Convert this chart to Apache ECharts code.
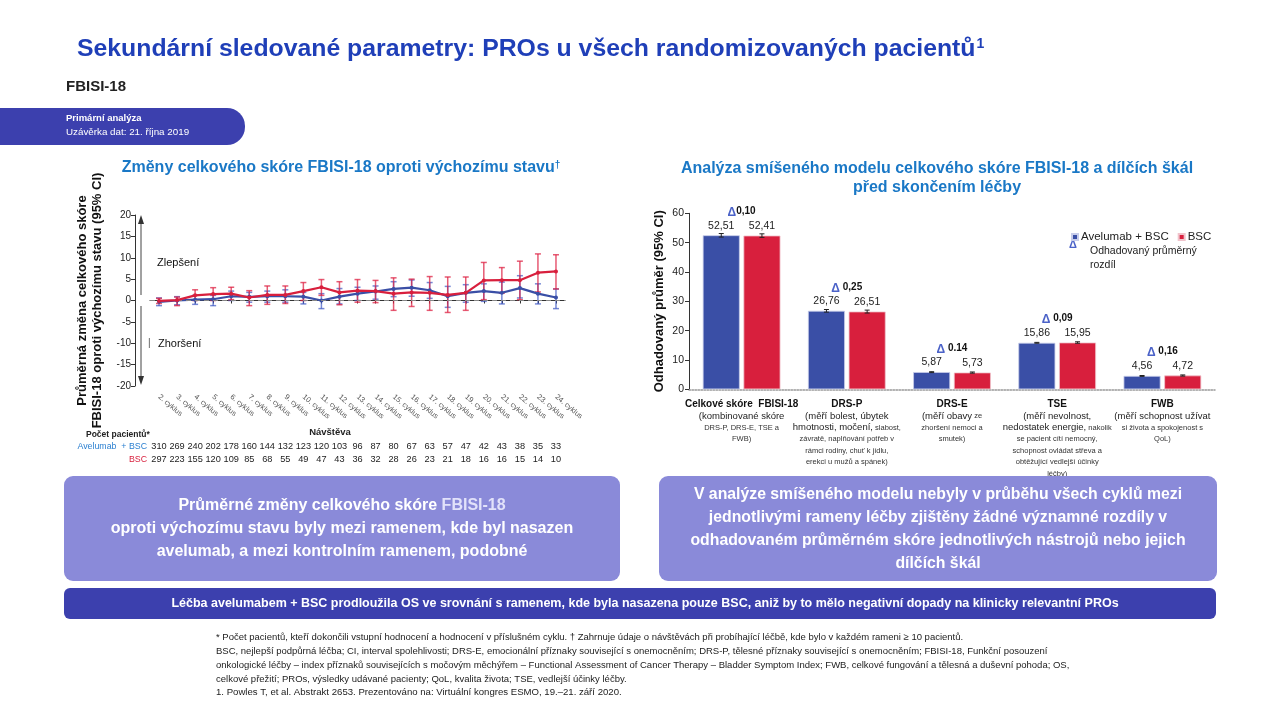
<!DOCTYPE html>
<html><head><meta charset="utf-8">
<script src="https://cdn.jsdelivr.net/npm/echarts@6/dist/echarts.min.js"></script>
<style>html,body{margin:0;padding:0;background:#fff}#c{width:1280px;height:720px}</style>
</head><body><div id="c"></div>
<script>
// ---------- Left chart data ----------
const cycles = ['2. cyklus','3. cyklus','4. cyklus','5. cyklus','6. cyklus','7. cyklus','8. cyklus','9. cyklus','10. cyklus','11. cyklus','12. cyklus','13. cyklus','14. cyklus','15. cyklus','16. cyklus','17. cyklus','18. cyklus','19. cyklus','20. cyklus','21. cyklus','22. cyklus','23. cyklus','24. cyklus'];
const aveMean = [-0.3, 0.0, 0.2, 0.3, 1.0, 0.85, 1.0, 1.0, 0.9, 0.0, 0.9, 1.6, 2.1, 2.7, 3.0, 2.4, 1.0, 1.8, 2.2, 1.8, 2.9, 1.6, 0.7];
const aveLow  = [-1.2, -1.0, -0.9, -1.2, 0.0, -0.4, -0.4, -0.4, -0.8, -1.9, -0.8, 0.0, 0.3, 0.9, 1.0, 0.5, -1.6, -0.4, -0.2, -0.8, 0.6, -0.8, -1.9];
const aveHigh = [0.6, 0.9, 1.2, 1.2, 2.2, 1.9, 2.2, 2.5, 1.9, 1.6, 2.8, 3.1, 3.4, 4.4, 4.8, 4.2, 3.3, 3.7, 3.9, 4.3, 5.8, 3.9, 2.7];
const bscMean = [-0.1, 0.1, 1.2, 1.5, 1.6, 0.7, 1.3, 1.3, 2.2, 3.1, 1.9, 2.3, 2.2, 1.6, 1.9, 1.8, 1.3, 1.8, 4.7, 4.75, 4.75, 6.5, 6.8];
const bscLow  = [-0.7, -1.2, 0.0, 0.0, 0.2, -1.2, -0.9, -0.7, 0.0, 1.2, -1.0, -0.4, -0.5, -2.3, -1.4, -2.3, -2.8, -2.3, 0.2, 1.7, 0.2, 2.0, 2.7];
const bscHigh = [0.5, 0.8, 2.5, 3.0, 3.1, 2.3, 3.4, 3.4, 4.2, 4.9, 4.4, 4.9, 4.7, 5.3, 5.0, 5.6, 5.5, 5.5, 8.9, 7.7, 9.2, 10.9, 10.7];
const aveN = [310,269,240,202,178,160,144,132,123,120,103,96,87,80,67,63,57,47,42,43,38,35,33];
const bscN = [297,223,155,120,109,85,68,55,49,47,43,36,32,28,26,23,21,18,16,16,15,14,10];

// ---------- Right chart data ----------
const scales = ['Celkové skóre  FBISI-18','DRS-P','DRS-E','TSE','FWB'];
const scaleDesc = [
  ['{a|(kombinované skóre}','{b|DRS-P, DRS-E, TSE a}','{b|FWB)}'],
  ['{a|(měří bolest, úbytek}','{a|hmotnosti, močení,}{b| slabost,}','{b|závratě, naplňování potřeb v}','{b|rámci rodiny, chuť k jídlu,}','{b|erekci u mužů a spánek)}'],
  ['{a|(měří obavy}{b| ze}','{b|zhoršení nemoci a}','{b|smutek)}'],
  ['{a|(měří nevolnost,}','{a|nedostatek energie,}{b| nakolik}','{b|se pacient cítí nemocný,}','{b|schopnost ovládat střeva a}','{b|obtěžující vedlejší účinky}','{b|léčby)}'],
  ['{a|(měří schopnost užívat}','{b|si života a spokojenost s}','{b|QoL)}']
];
const aveScore = [52.51, 26.76, 5.87, 15.86, 4.56];
const bscScore = [52.41, 26.51, 5.73, 15.95, 4.72];
const aveLo = [51.9, 26.3, 5.7, 15.7, 4.4];
const aveHi = [53.1, 27.2, 6.0, 16.0, 4.7];
const bscLo = [51.8, 26.0, 5.5, 15.7, 4.5];
const bscHi = [53.0, 27.0, 5.9, 16.2, 4.9];
const deltas = ['0,10','0,25','0.14','0,09','0,16'];

const F = '"Liberation Sans", Arial, sans-serif';
const FN = '"Liberation Sans Narrow", "Liberation Sans", Arial, sans-serif';
const BLUE = '#3a4fa6', RED = '#d81f3d';

const chart = echarts.init(document.getElementById('c'), null, {renderer: 'canvas'});

function errBars(color, capW, dx, w) {
  return function (params, api) {
    const i = api.value(0);
    const lo = api.coord([i, api.value(1)]);
    const hi = api.coord([i, api.value(2)]);
    const x = lo[0] + dx;
    const st = {stroke: color, lineWidth: w};
    return {type: 'group', children: [
      {type: 'line', shape: {x1: x, y1: lo[1], x2: x, y2: hi[1]}, style: st},
      {type: 'line', shape: {x1: x - capW, y1: lo[1], x2: x + capW, y2: lo[1]}, style: st},
      {type: 'line', shape: {x1: x - capW, y1: hi[1], x2: x + capW, y2: hi[1]}, style: st}
    ]};
  };
}

const BARW = 37, BARGAP = 3.7;
const off = (BARW + BARGAP) / 2;

const option = {
  animation: false,
  textStyle: {fontFamily: F},
  grid: [
    {left: 150, right: 715, top: 215, bottom: 334},
    {left: 689, right: 65, top: 213.3, bottom: 330.7}
  ],
  xAxis: [
    {gridIndex: 0, type: 'category', data: cycles, offset: 5,
     axisLine: {lineStyle: {color: '#333', width: 1}},
     axisTick: {show: true, alignWithLabel: true, length: 3, lineStyle: {color: '#333'}},
     axisLabel: {interval: 0, rotate: -40, fontSize: 7.5, color: '#555', margin: 5, fontFamily: F}},
    {gridIndex: 0, type: 'category', data: cycles, offset: 56, position: 'bottom',
     axisLine: {show: false}, axisTick: {show: false},
     axisLabel: {interval: 0, margin: 0, fontSize: 9.2, color: '#222', fontFamily: F,
       formatter: (v, i) => String(aveN[i])}},
    {gridIndex: 0, type: 'category', data: cycles, offset: 69, position: 'bottom',
     axisLine: {show: false}, axisTick: {show: false},
     axisLabel: {interval: 0, margin: 0, fontSize: 9.2, color: '#222', fontFamily: F,
       formatter: (v, i) => String(bscN[i])}},
    {gridIndex: 1, type: 'category', data: scales,
     axisLine: {lineStyle: {color: '#999', width: 1.5, type: 'dotted'}},
     axisTick: {show: false},
     axisLabel: {interval: 0, margin: 9, color: '#222', fontFamily: F, lineHeight: 11.5,
       formatter: (v, i) => '{t|' + v + '}\n' + scaleDesc[i].join('\n'),
       rich: {
         t: {fontSize: 10, fontWeight: 'bold', color: '#111', lineHeight: 12, fontFamily: F},
         a: {fontSize: 9.5, color: '#222', lineHeight: 11.5, fontFamily: F},
         b: {fontSize: 7.5, color: '#333', lineHeight: 11.5, fontFamily: F}
       }}}
  ],
  yAxis: [
    {gridIndex: 0, type: 'value', min: -20, max: 20, interval: 5, offset: 15,
     axisLine: {show: true, lineStyle: {color: '#333'}},
     axisTick: {show: true, length: 4, lineStyle: {color: '#333'}},
     splitLine: {show: false},
     axisLabel: {fontSize: 10, color: '#222', margin: 4, fontFamily: F},
     name: 'Průměrná změna celkového skóre\nFBISI-18 oproti výchozímu stavu (95% CI)',
     nameLocation: 'middle', nameGap: 30, nameRotate: 90,
     nameTextStyle: {fontSize: 13, fontWeight: 'bold', color: '#111', lineHeight: 15, fontFamily: F}},
    {gridIndex: 1, type: 'value', min: 0, max: 60, interval: 10,
     axisLine: {show: true, lineStyle: {color: '#333'}},
     axisTick: {show: true, length: 4, lineStyle: {color: '#333'}},
     splitLine: {show: false},
     axisLabel: {fontSize: 10.5, color: '#222', margin: 5, fontFamily: F},
     name: 'Odhadovaný průměr (95% CI)', nameLocation: 'middle', nameGap: 23, nameRotate: 90,
     nameTextStyle: {fontSize: 13, fontWeight: 'bold', color: '#111', fontFamily: F}}
  ],
  legend: {
    data: ['Avelumab + BSC', 'BSC'], left: 1066, top: 226, itemWidth: 6, itemHeight: 6, itemGap: 9,
    icon: 'rect', textStyle: {fontSize: 11.5, color: '#222', fontFamily: F, padding: [0, 0, 0, -2]}
  },
  series: [
    {type: 'custom', xAxisIndex: 0, yAxisIndex: 0, z: 3,
     renderItem: errBars('rgba(60,85,195,0.7)', 3, 0, 1.5),
     data: cycles.map((c, i) => [i, aveLow[i], aveHigh[i]]), encode: {x: 0, y: [1, 2]}},
    {type: 'custom', xAxisIndex: 0, yAxisIndex: 0, z: 3,
     renderItem: errBars('rgba(222,35,68,0.75)', 3, 0, 1.5),
     data: cycles.map((c, i) => [i, bscLow[i], bscHigh[i]]), encode: {x: 0, y: [1, 2]}},
    {name: 'aveLine', type: 'line', xAxisIndex: 0, yAxisIndex: 0, data: aveMean, z: 4,
     symbol: 'circle', symbolSize: 4, lineStyle: {color: BLUE, width: 2.2}, itemStyle: {color: BLUE},
     markLine: {silent: true, symbol: 'none', label: {show: false},
       lineStyle: {color: '#888', type: [5, 4], width: 1.2}, data: [{yAxis: 0}]}},
    {name: 'bscLine', type: 'line', xAxisIndex: 0, yAxisIndex: 0, data: bscMean, z: 5,
     symbol: 'circle', symbolSize: 4, lineStyle: {color: RED, width: 2.2}, itemStyle: {color: RED}},
    {name: 'Avelumab + BSC', type: 'bar', xAxisIndex: 3, yAxisIndex: 1, data: aveScore,
     barWidth: BARW, barGap: '10%', itemStyle: {color: BLUE, borderColor: '#c8cdea', borderWidth: 0.8},
     label: {show: true, position: 'top', distance: 4, fontSize: 10.5, color: '#222', fontFamily: F,
       formatter: p => p.value.toFixed(2).replace('.', ',')}},
    {name: 'BSC', type: 'bar', xAxisIndex: 3, yAxisIndex: 1, data: bscScore,
     barWidth: BARW, barGap: '10%', itemStyle: {color: RED, borderColor: '#f0c4cc', borderWidth: 0.8},
     label: {show: true, position: 'top', distance: 4, fontSize: 10.5, color: '#222', fontFamily: F,
       formatter: p => p.value.toFixed(2).replace('.', ',')}},
    {type: 'custom', xAxisIndex: 3, yAxisIndex: 1, z: 6,
     renderItem: errBars('#222', 2.5, -off, 1),
     data: scales.map((c, i) => [i, aveLo[i], aveHi[i]]), encode: {x: 0, y: [1, 2]}},
    {type: 'custom', xAxisIndex: 3, yAxisIndex: 1, z: 6,
     renderItem: errBars('#222', 2.5, off, 1),
     data: scales.map((c, i) => [i, bscLo[i], bscHi[i]]), encode: {x: 0, y: [1, 2]}},
    {type: 'custom', xAxisIndex: 3, yAxisIndex: 1, z: 6,
     renderItem: function (params, api) {
       const i = api.value(0);
       const p = api.coord([i, api.value(1)]);
       return {type: 'text', x: p[0], y: p[1] - 24,
         style: {text: '{d|Δ}{s|' + (i === 0 ? '' : ' ') + '}{v|' + deltas[i] + '}',
           align: 'center', verticalAlign: 'middle',
           rich: {d: {fontSize: 12, fontWeight: 'bold', fill: '#4b62c8', fontFamily: F, padding: [3, 0, 0, 0]},
                  s: {fontSize: 10, fontFamily: F},
                  v: {fontSize: 10, fontWeight: 'bold', fill: '#111', fontFamily: F}}}};
     },
     data: scales.map((c, i) => [i, Math.max(aveScore[i], bscScore[i])]), encode: {x: 0, y: 1}}
  ],
  graphic: [
    // header
    {type: 'text', left: 77, top: 37, style: {text: '{m|Sekundární sledované parametry: PROs u všech randomizovaných pacientů}{s|1}',
      rich: {m: {fontSize: 24.8, fontWeight: 'bold', fill: '#1f3fb8', fontFamily: F},
             s: {fontSize: 14, fontWeight: 'bold', fill: '#1f3fb8', fontFamily: F, verticalAlign: 'top', padding: [0, 0, 10, 1]}}}},
    {type: 'text', left: 66, top: 79, style: {text: 'FBISI-18', fontSize: 15, fontWeight: 'bold', fill: '#222', fontFamily: F}},
    {type: 'rect', shape: {x: -30, y: 108, width: 275, height: 37, r: 18}, style: {fill: '#3c40ae'}},
    {type: 'text', left: 66, top: 113, style: {text: 'Primární analýza', fontSize: 9.5, fontWeight: 'bold', fill: '#fff', fontFamily: F}},
    {type: 'text', left: 66, top: 127, style: {text: 'Uzávěrka dat: 21. října 2019', fontSize: 9.8, fill: '#fff', fontFamily: F}},
    // chart titles
    {type: 'text', x: 341, y: 168, style: {text: 'Změny celkového skóre FBISI-18 oproti výchozímu stavu{s|†}', align: 'center', verticalAlign: 'middle',
      fontSize: 16, fontWeight: 'bold', fill: '#1a78c6', fontFamily: F,
      rich: {s: {fontSize: 10, fontWeight: 'bold', fill: '#1a78c6', fontFamily: F, padding: [0, 0, 6, 0]}}}},
    {type: 'text', x: 937, y: 178, style: {text: 'Analýza smíšeného modelu celkového skóre FBISI-18 a dílčích škál\npřed skončením léčby', align: 'center', verticalAlign: 'middle',
      fontSize: 16, fontWeight: 'bold', fill: '#1a78c6', fontFamily: F, lineHeight: 19}},
    // arrows left
    {type: 'line', shape: {x1: 141, y1: 295, x2: 141, y2: 222}, style: {stroke: '#444', lineWidth: 1}},
    {type: 'polygon', shape: {points: [[141, 215], [138, 224], [144, 224]]}, style: {fill: '#333'}},
    {type: 'line', shape: {x1: 141, y1: 306, x2: 141, y2: 377}, style: {stroke: '#444', lineWidth: 1}},
    {type: 'polygon', shape: {points: [[141, 385], [138, 376], [144, 376]]}, style: {fill: '#333'}},
    {type: 'text', left: 157, top: 257, style: {text: 'Zlepšení', fontSize: 11, fill: '#111', fontFamily: F}},
    {type: 'text', left: 158, top: 338, style: {text: 'Zhoršení', fontSize: 11, fill: '#111', fontFamily: F}},
    {type: 'text', left: 148, top: 338, style: {text: '|', fontSize: 10, fill: '#555', fontFamily: F}},
    // patient numbers labels
    {type: 'text', x: 330, y: 432, style: {text: 'Návštěva', align: 'center', verticalAlign: 'middle', fontSize: 9.5, fontWeight: 'bold', fill: '#222', fontFamily: F}},
    {type: 'text', left: 86, top: 430, style: {text: 'Počet pacientů*', fontSize: 8.5, fontWeight: 'bold', fill: '#222', fontFamily: F}},
    {type: 'text', x: 147, y: 447, style: {text: 'Avelumab  + BSC', align: 'right', verticalAlign: 'middle', fontSize: 8.8, fill: '#2a7fd0', fontFamily: F}},
    {type: 'text', x: 147, y: 460, style: {text: 'BSC', align: 'right', verticalAlign: 'middle', fontSize: 8.8, fill: '#d81f3d', fontFamily: F}},
    // legend note
    {type: 'text', left: 1069, top: 239, style: {text: 'Δ', fontSize: 11, fontWeight: 'bold', fill: '#4b62c8', fontFamily: F}},
    {type: 'text', left: 1090, top: 244, style: {text: 'Odhadovaný průměrný\nrozdíl', fontSize: 10.5, fill: '#222', lineHeight: 14, fontFamily: F}},
    // summary boxes
    {type: 'rect', z: 100, shape: {x: 64, y: 476, width: 556, height: 105, r: 9}, style: {fill: '#8a8ad9'}},
    {type: 'text', z: 101, x: 342, y: 529, style: {text: 'Průměrné změny celkového skóre {l|FBISI-18}\noproti výchozímu stavu byly mezi ramenem, kde byl nasazen\navelumab, a mezi kontrolním ramenem, podobné',
      align: 'center', verticalAlign: 'middle', fontSize: 16, fontWeight: 'bold', fill: '#fff', lineHeight: 23, fontFamily: F,
      rich: {l: {fontSize: 16, fontWeight: 'bold', fill: '#e2e2fa', fontFamily: F}}}},
    {type: 'rect', z: 100, shape: {x: 659, y: 476, width: 558, height: 105, r: 9}, style: {fill: '#8a8ad9'}},
    {type: 'text', z: 101, x: 938, y: 529, style: {text: 'V analýze smíšeného modelu nebyly v průběhu všech cyklů mezi\njednotlivými rameny léčby zjištěny žádné významné rozdíly v\nodhadovaném průměrném skóre jednotlivých nástrojů nebo jejich\ndílčích škál',
      align: 'center', verticalAlign: 'middle', fontSize: 15.8, fontWeight: 'bold', fill: '#fff', lineHeight: 23, fontFamily: F}},
    // bottom bar
    {type: 'rect', z: 100, shape: {x: 64, y: 588, width: 1152, height: 31, r: 6}, style: {fill: '#3c40ae'}},
    {type: 'text', z: 101, x: 645, y: 604, style: {text: 'Léčba avelumabem + BSC prodloužila OS ve srovnání s ramenem, kde byla nasazena pouze BSC, aniž by to mělo negativní dopady na klinicky relevantní PROs',
      align: 'center', verticalAlign: 'middle', fontSize: 12.5, fontWeight: 'bold', fill: '#fff', fontFamily: F}},
    // footnotes
    {type: 'text', left: 216, top: 630, style: {text:
      '* Počet pacientů, kteří dokončili vstupní hodnocení a hodnocení v příslušném cyklu. † Zahrnuje údaje o návštěvách při probíhající léčbě, kde bylo v každém rameni ≥ 10 pacientů.\n' +
      'BSC, nejlepší podpůrná léčba; CI, interval spolehlivosti; DRS-E, emocionální příznaky související s onemocněním; DRS-P, tělesné příznaky související s onemocněním; FBISI-18, Funkční posouzení\n' +
      'onkologické léčby – index příznaků souvisejících s močovým měchýřem – Functional Assessment of Cancer Therapy – Bladder Symptom Index; FWB, celkové fungování a tělesná a duševní pohoda; OS,\n' +
      'celkové přežití; PROs, výsledky udávané pacienty; QoL, kvalita života; TSE, vedlejší účinky léčby.',
      fontSize: 9.5, fill: '#222', lineHeight: 14, fontFamily: FN}},
    {type: 'text', left: 216, top: 687, style: {text: '1. Powles T, et al. Abstrakt 2653. Prezentováno na: Virtuální kongres ESMO, 19.–21. září 2020.',
      fontSize: 9.6, fill: '#222', fontFamily: FN}}
  ]
};
chart.setOption(option);
</script>
</body></html>
